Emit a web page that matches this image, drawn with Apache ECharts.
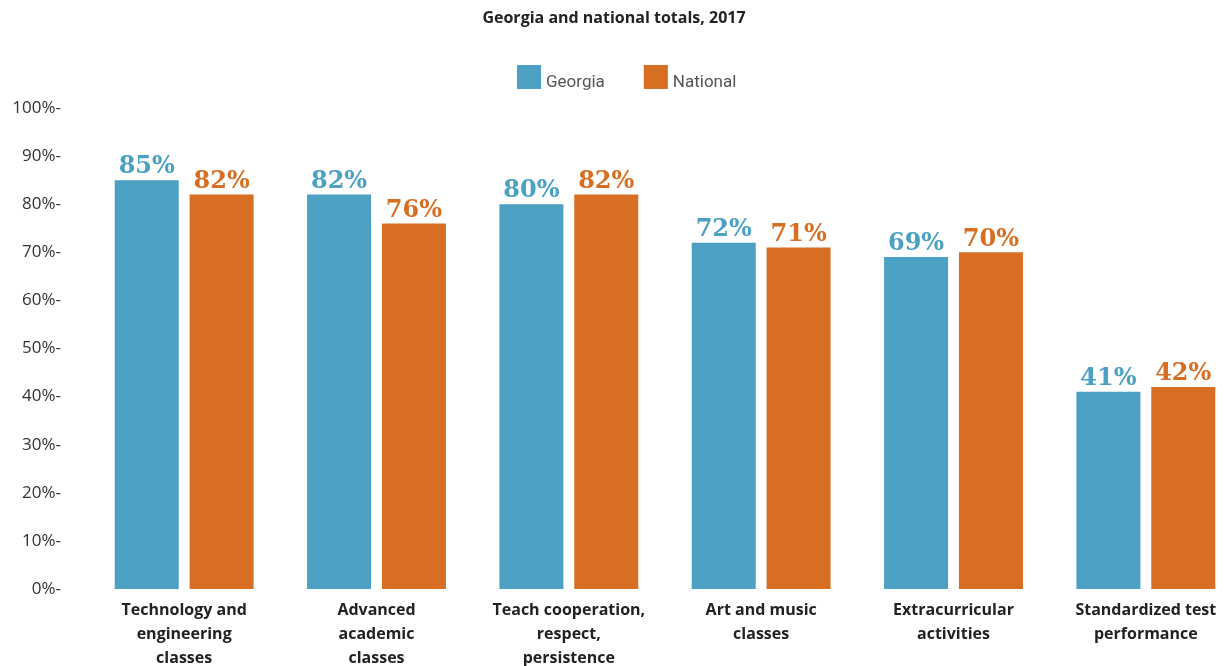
<!DOCTYPE html>
<html>
<head>
<meta charset="utf-8">
<script src="https://cdn.jsdelivr.net/npm/echarts@6/dist/echarts.min.js"></script>
<style>
  html, body { margin: 0; padding: 0; background: #fff; }
  #chart { width: 1228px; height: 666px; }
</style>
</head>
<body>
<div id="chart"></div>
<script>
// Survey categories (line breaks give the wrapped axis labels)
const categories = [
  'Technology and\nengineering\nclasses',
  'Advanced\nacademic\nclasses',
  'Teach cooperation,\nrespect,\npersistence',
  'Art and music\nclasses',
  'Extracurricular\nactivities',
  'Standardized test\nperformance'
];
// Percent of respondents
const georgia = [85, 82, 80, 72, 69, 41];
const national = [82, 76, 82, 71, 70, 42];
const yTicks = { min: 0, max: 100, step: 10 };

const BLUE = '#4ba0c4';
const ORANGE = '#d86e22';

const chart = echarts.init(document.getElementById('chart'), null, { renderer: 'canvas' });

function valueLabel(color) {
  return {
    show: true,
    position: 'top',
    distance: 1,
    formatter: '{c}%',
    color: color,
    fontFamily: 'DejaVu Serif',
    fontWeight: 'bold',
    fontSize: 24
  };
}

chart.setOption({
  animation: false,
  title: {
    text: 'Georgia and national totals, 2017',
    left: 'center',
    top: 5,
    textStyle: {
      fontFamily: 'Open Sans',
      fontWeight: 'bold',
      fontSize: 16,
      color: '#222'
    }
  },
  legend: {
    left: 512,
    top: 60,
    itemWidth: 24,
    itemHeight: 24,
    itemGap: 39,
    icon: 'rect',
    formatter: '{t|{name}}',
    textStyle: {
      rich: {
        t: {
          fontFamily: 'Roboto',
          fontSize: 17,
          color: '#555',
          padding: [12, 0, 0, 0]
        }
      }
    },
    data: ['Georgia', 'National']
  },
  grid: {
    left: 88,
    top: 108,
    width: 1154,
    height: 481,
    containLabel: false,
    outerBoundsMode: 'none'
  },
  xAxis: {
    type: 'category',
    data: categories,
    axisLine: { show: false },
    axisTick: { show: false },
    axisLabel: {
      interval: 0,
      margin: 9,
      fontFamily: 'Open Sans',
      fontWeight: 'bold',
      fontSize: 16,
      lineHeight: 24,
      color: '#222'
    }
  },
  yAxis: {
    type: 'value',
    min: yTicks.min,
    max: yTicks.max,
    interval: yTicks.step,
    axisLine: { show: false },
    axisTick: { show: false },
    splitLine: { show: false },
    axisLabel: {
      margin: 27,
      formatter: '{value}%-',
      fontFamily: 'Open Sans',
      fontSize: 17,
      color: '#333'
    }
  },
  series: [
    {
      name: 'Georgia',
      type: 'bar',
      data: georgia,
      barWidth: 64,
      barGap: '17%',
      itemStyle: { color: BLUE },
      label: valueLabel(BLUE)
    },
    {
      name: 'National',
      type: 'bar',
      data: national,
      barWidth: 64,
      itemStyle: { color: ORANGE },
      label: valueLabel(ORANGE)
    }
  ]
});
</script>
</body>
</html>
